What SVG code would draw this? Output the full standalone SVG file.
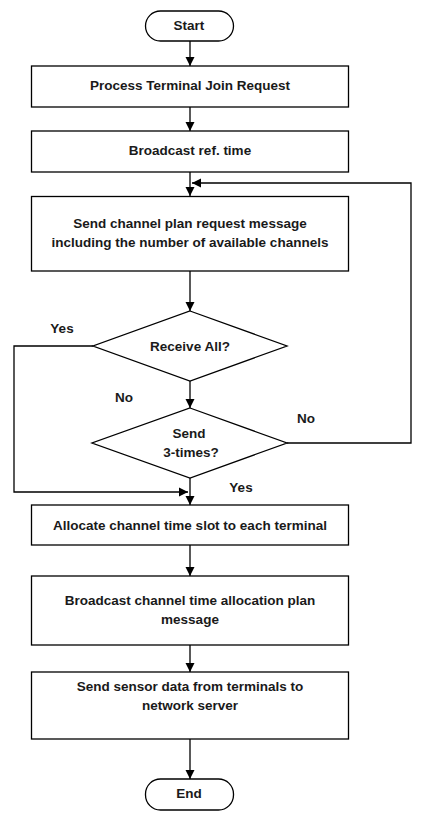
<svg xmlns="http://www.w3.org/2000/svg" width="422" height="821" viewBox="0 0 422 821">
<style>
.n{fill:#fff;stroke:#000;stroke-width:1.3}
.t{font-family:"Liberation Sans",Arial,sans-serif;font-weight:bold;font-size:13.5px;fill:#1a1a1a;text-anchor:middle}
.c{fill:none;stroke:#000;stroke-width:1.3}
</style>
<defs>
<marker id="a" markerWidth="10" markerHeight="10" refX="9" refY="5" orient="auto" markerUnits="userSpaceOnUse">
<path d="M0,0.5 L9,5 L0,9.5 Z" fill="#000"/>
</marker>
</defs>
<rect width="422" height="821" fill="#fff"/>
<g id="connectors">
<line class="c" x1="190" y1="41" x2="190" y2="66" marker-end="url(#a)"/>
<line class="c" x1="190" y1="107" x2="190" y2="131" marker-end="url(#a)"/>
<line class="c" x1="190" y1="172" x2="190" y2="196" marker-end="url(#a)"/>
<polyline class="c" points="287,443 411,443 411,183 192,183" marker-end="url(#a)"/>
<line class="c" x1="190" y1="271" x2="190" y2="311" marker-end="url(#a)"/>
<line class="c" x1="190" y1="381" x2="190" y2="408" marker-end="url(#a)"/>
<polyline class="c" points="93,346 14,346 14,492 188,492" marker-end="url(#a)"/>
<line class="c" x1="190" y1="478" x2="190" y2="505" marker-end="url(#a)"/>
<line class="c" x1="190" y1="545" x2="190" y2="576" marker-end="url(#a)"/>
<line class="c" x1="190" y1="645" x2="190" y2="672" marker-end="url(#a)"/>
<line class="c" x1="190" y1="739" x2="190" y2="779" marker-end="url(#a)"/>
<text class="t" x="62" y="333">Yes</text>
<text class="t" x="124" y="402">No</text>
<text class="t" x="306" y="423">No</text>
<text class="t" x="241" y="492">Yes</text>
</g>
<g id="start">
<rect class="n" x="145.5" y="11" width="88" height="30" rx="15"/>
<text class="t" x="189" y="30">Start</text>
</g>
<g id="join">
<rect class="n" x="31.5" y="66" width="317" height="41"/>
<text class="t" x="190" y="90">Process Terminal Join Request</text>
</g>
<g id="broadcast-ref">
<rect class="n" x="31.5" y="131" width="317" height="41"/>
<text class="t" x="190" y="155">Broadcast ref. time</text>
</g>
<g id="send-plan-request">
<rect class="n" x="31.5" y="196.5" width="317" height="74.5"/>
<text class="t" x="190" y="228">Send channel plan request message</text>
<text class="t" x="190" y="247">including the number of available channels</text>
</g>
<g id="receive-all">
<polygon class="n" points="190,311 287,346 190,381 93,346"/>
<text class="t" x="190" y="351">Receive All?</text>
</g>
<g id="send-3-times">
<polygon class="n" points="190,408 287,443 190,478 92,443"/>
<text class="t" x="189" y="438">Send</text>
<text class="t" x="191" y="457">3-times?</text>
</g>
<g id="allocate">
<rect class="n" x="31.5" y="505" width="317" height="40"/>
<text class="t" x="190" y="530">Allocate channel time slot to each terminal</text>
</g>
<g id="broadcast-plan">
<rect class="n" x="31.5" y="576" width="317" height="69"/>
<text class="t" x="190" y="605">Broadcast channel time allocation plan</text>
<text class="t" x="190" y="624">message</text>
</g>
<g id="send-sensor">
<rect class="n" x="31.5" y="672" width="317" height="67"/>
<text class="t" x="190" y="691">Send sensor data from terminals to</text>
<text class="t" x="190" y="710">network server</text>
</g>
<g id="end">
<rect class="n" x="145.5" y="779" width="88" height="31" rx="15"/>
<text class="t" x="189" y="798">End</text>
</g>
</svg>
